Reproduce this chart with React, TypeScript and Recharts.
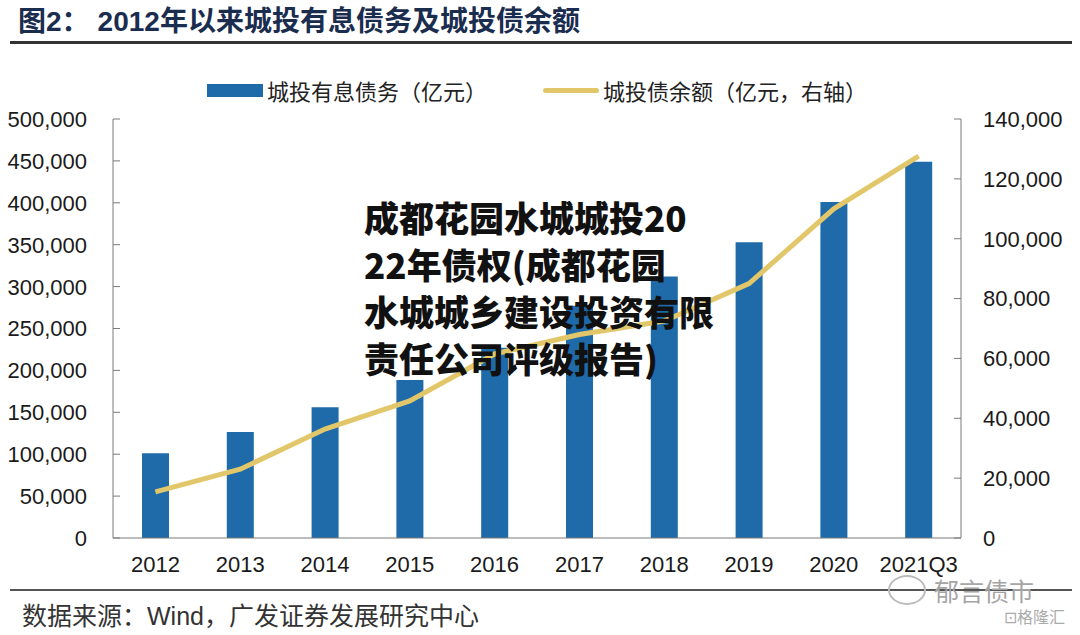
import { ComposedChart, Bar, Line, XAxis, YAxis } from 'recharts';

const years = ['2012', '2013', '2014', '2015', '2016', '2017', '2018', '2019', '2020', '2021Q3'];
// 城投有息债务（亿元）
const debt = [101000, 126500, 156000, 188500, 227000, 277000, 312000, 353000, 401000, 449000];
// 城投债余额（亿元，右轴）
const bondBalance = [15400, 23000, 36400, 45800, 61500, 68000, 72500, 85000, 110000, 127600];

const leftTicks = [0, 50000, 100000, 150000, 200000, 250000, 300000, 350000, 400000, 450000, 500000];
const rightTicks = [0, 20000, 40000, 60000, 80000, 100000, 120000, 140000];

const BLUE = '#1f6aa8';
const GOLD = '#e2c76a';
const AXIS = '#7a7a7a';
const FONT = '"Liberation Sans", Arial, "Noto Sans CJK SC", sans-serif';
const CJK = '"Noto Sans CJK SC", "Liberation Sans", sans-serif';

const data = years.map((y, i) => ({ year: y, debt: debt[i], balance: bondBalance[i] }));

const fmt = (v: number) => v.toLocaleString('en-US');

const tickStyle = { fontFamily: FONT, fontSize: 22, fill: '#1a1a1a' };

// label gap from axis line, ticks drawn pointing into the plot
const LEFT_GAP = 26;
const RIGHT_GAP = 22;
const TICK_LEN = 7;

function LeftTick(props: any) {
  const { x, y, payload } = props;
  return (
    <g>
      <line x1={x + LEFT_GAP} x2={x + LEFT_GAP + TICK_LEN} y1={y} y2={y} stroke={AXIS} />
      <text x={x} y={y} dy="0.36em" textAnchor="end" {...tickStyle}>
        {fmt(payload.value)}
      </text>
    </g>
  );
}

function RightTick(props: any) {
  const { x, y, payload } = props;
  return (
    <g>
      <line x1={x - RIGHT_GAP} x2={x - RIGHT_GAP - TICK_LEN} y1={y} y2={y} stroke={AXIS} />
      <text x={x} y={y} dy="0.36em" textAnchor="start" {...tickStyle}>
        {fmt(payload.value)}
      </text>
    </g>
  );
}

export default function App() {
  return (
    <div style={{ position: 'absolute', left: 0, top: 0, width: 1080, height: 635, background: '#fff', overflow: 'hidden' }}>
      {/* title */}
      <div style={{ position: 'absolute', left: 18, top: 0, lineHeight: '38px', fontFamily: CJK, fontWeight: 700, fontSize: 28, color: '#1b2d4f', whiteSpace: 'nowrap' }}>
        图<span style={{ fontFamily: FONT, fontWeight: 700 }}>2</span>：
        <span style={{ fontFamily: FONT, fontWeight: 700, marginLeft: 8 }}>2012</span>年以来城投有息债务及城投债余额
      </div>
      <div style={{ position: 'absolute', left: 10, top: 41, width: 1062, height: 3, background: '#333' }} />

      {/* legend */}
      <div style={{ position: 'absolute', left: 207, top: 84, width: 56, height: 13, background: BLUE }} />
      <div style={{ position: 'absolute', left: 267, top: 75, lineHeight: '30px', fontFamily: CJK, fontSize: 22, color: '#222', whiteSpace: 'nowrap' }}>
        城投有息债务（亿元）
      </div>
      <div style={{ position: 'absolute', left: 543, top: 88, width: 56, height: 5, background: GOLD, borderRadius: 3 }} />
      <div style={{ position: 'absolute', left: 603, top: 75, lineHeight: '30px', fontFamily: CJK, fontSize: 22, color: '#222', whiteSpace: 'nowrap' }}>
        城投债余额（亿元，右轴）
      </div>

      <ComposedChart width={1080} height={635} data={data} margin={{ top: 119, right: 19, bottom: 67, left: 13 }}>
        <XAxis
          dataKey="year"
          tickLine={false}
          axisLine={{ stroke: AXIS }}
          tick={tickStyle}
          dy={10}
          interval={0}
        />
        <YAxis
          yAxisId="left"
          width={100}
          domain={[0, 500000]}
          ticks={leftTicks}
          axisLine={{ stroke: AXIS }}
          tickLine={false}
          tickSize={LEFT_GAP}
          tickMargin={0}
          tick={<LeftTick />}
        />
        <YAxis
          yAxisId="right"
          orientation="right"
          width={100}
          domain={[0, 140000]}
          ticks={rightTicks}
          axisLine={{ stroke: AXIS }}
          tickLine={false}
          tickSize={RIGHT_GAP}
          tickMargin={0}
          tick={<RightTick />}
        />
        <Bar yAxisId="left" dataKey="debt" name="城投有息债务（亿元）" fill={BLUE} barSize={27} isAnimationActive={false} />
        <Line
          yAxisId="right"
          dataKey="balance"
          name="城投债余额（亿元，右轴）"
          stroke={GOLD}
          strokeWidth={5}
          dot={false}
          type="linear"
          isAnimationActive={false}
        />
      </ComposedChart>

      {/* overlay caption */}
      <div
        style={{
          position: 'absolute',
          left: 364,
          top: 193,
          width: 360,
          fontFamily: CJK,
          fontWeight: 900,
          fontSize: 35,
          lineHeight: '47px',
          color: '#111',
          whiteSpace: 'nowrap',
        }}
      >
        成都花园水城城投20
        <br />
        22年债权(成都花园
        <br />
        水城城乡建设投资有限
        <br />
        责任公司评级报告)
      </div>

      {/* footer */}
      <div style={{ position: 'absolute', left: 10, top: 589, width: 1062, height: 2, background: '#555' }} />
      <div style={{ position: 'absolute', left: 22, top: 598, lineHeight: '32px', fontFamily: CJK, fontSize: 25, color: '#333', whiteSpace: 'nowrap' }}>
        数据来源：<span style={{ fontFamily: FONT }}>Wind</span>，广发证券发展研究中心
      </div>

      {/* watermark */}
      <div style={{ position: 'absolute', left: 888, top: 575, width: 34, height: 26, borderRadius: '50%', border: '2px solid #bbb' }} />
      <div style={{ position: 'absolute', left: 934, top: 577, lineHeight: '26px', fontFamily: CJK, fontSize: 25, color: '#a5a5a5', whiteSpace: 'nowrap' }}>
        郁言债市
      </div>
      <div style={{ position: 'absolute', left: 1004, top: 606, lineHeight: '20px', fontFamily: CJK, fontSize: 16, color: '#aaa', whiteSpace: 'nowrap' }}>
        ⊡格隆汇
      </div>
    </div>
  );
}
